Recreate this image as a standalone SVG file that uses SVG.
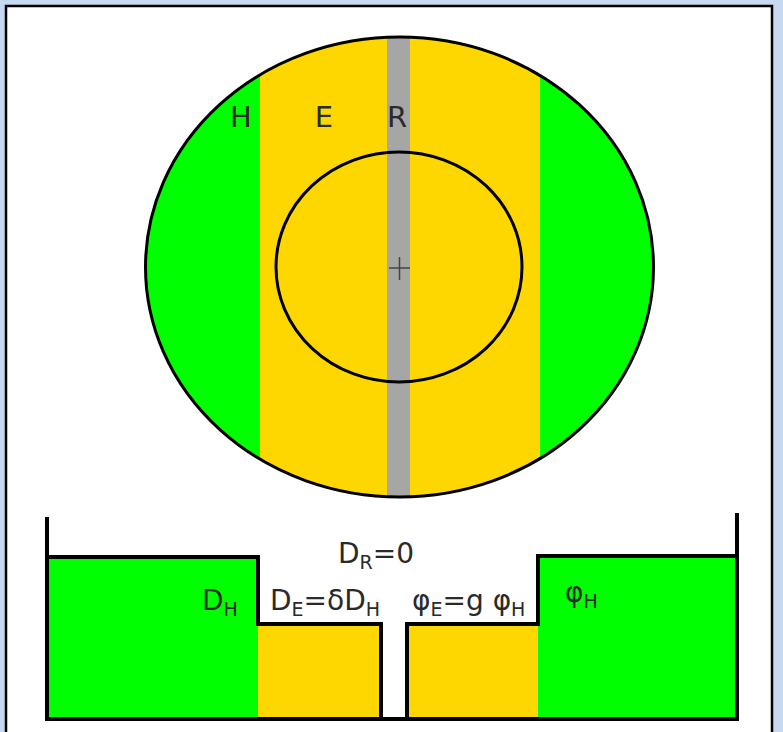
<svg xmlns="http://www.w3.org/2000/svg" width="783" height="732" viewBox="0 0 783 732">
<style>
.lbl{font-family:"DejaVu Sans","Liberation Sans",sans-serif;fill:#2a2a2a;}
.big{font-size:28px;}
.sub{font-size:19px;}
.ol{fill:none;stroke:#000;stroke-width:4;stroke-linejoin:miter;}
</style>
<defs>
<clipPath id="ell"><ellipse cx="399.5" cy="267" rx="254" ry="230"/></clipPath>
</defs>
<rect x="0" y="0" width="783" height="732" fill="#c6d9f0"/>
<rect x="6" y="6" width="766" height="740" fill="#fff" stroke="#000" stroke-width="2.5"/>
<g id="disk">
<g clip-path="url(#ell)">
<rect x="140" y="30" width="120" height="480" fill="#00ff00"/>
<rect x="260" y="30" width="127" height="480" fill="#ffd700"/>
<rect x="387" y="30" width="23" height="480" fill="#a6a6a6"/>
<rect x="410" y="30" width="130" height="480" fill="#ffd700"/>
<rect x="540" y="30" width="120" height="480" fill="#00ff00"/>
</g>
<ellipse cx="399.5" cy="267" rx="254" ry="230" fill="none" stroke="#000" stroke-width="3"/>
<ellipse cx="399" cy="267" rx="123" ry="115" fill="none" stroke="#000" stroke-width="3"/>
<path d="M389,268 H410 M399.5,257 V280" stroke="#444" stroke-width="1.5" fill="none"/>
<text class="lbl" x="241" y="127" font-size="29" text-anchor="middle">H</text>
<text class="lbl" x="324" y="127" font-size="29" text-anchor="middle">E</text>
<text class="lbl" x="397" y="127" font-size="29" text-anchor="middle">R</text>
</g>
<g id="profile">
<rect x="47" y="557" width="211" height="162" fill="#00ff00"/>
<rect x="258" y="624" width="123" height="95" fill="#ffd700"/>
<rect x="407" y="624" width="131" height="95" fill="#ffd700"/>
<rect x="538" y="556" width="199" height="163" fill="#00ff00"/>
<path class="ol" d="M47,517 V719 H737 V513"/>
<path class="ol" d="M47,557 H258 V624 H381 V719"/>
<path class="ol" d="M407,719 V624 H538 V556 H737"/>
<text class="lbl big" x="338" y="563">D<tspan class="sub" dy="6">R</tspan><tspan dy="-6">=0</tspan></text>
<text class="lbl big" x="202" y="610">D<tspan class="sub" dy="6">H</tspan></text>
<text class="lbl big" x="270" y="610">D<tspan class="sub" dy="6">E</tspan><tspan dy="-6">=δD</tspan><tspan class="sub" dy="6">H</tspan></text>
<text class="lbl big" x="412" y="610">φ<tspan class="sub" dy="6">E</tspan><tspan dy="-6">=g φ</tspan><tspan class="sub" dy="6">H</tspan></text>
<text class="lbl big" x="565" y="602" fill="#1a6b1a">φ<tspan class="sub" dy="6">H</tspan></text>
</g>
</svg>
